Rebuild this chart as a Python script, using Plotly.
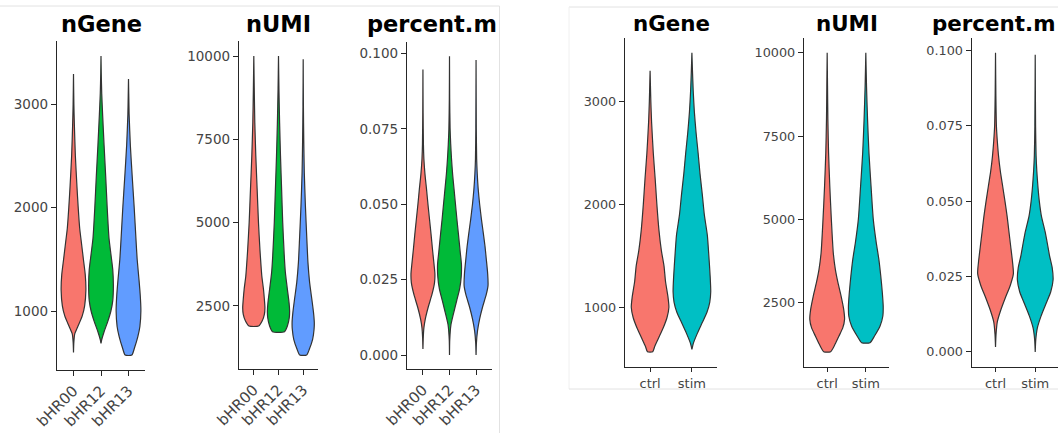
import plotly.graph_objects as go

W, H = 1058, 433

# ---------------- categories / colours ----------------
groups_left = ["bHR00", "bHR12", "bHR13"]
groups_right = ["ctrl", "stim"]
colors_left = ["#F8766D", "#00BA38", "#619CFF"]
colors_right = ["#F8766D", "#00BFC4"]
titles = ["nGene", "nUMI", "percent.m"]

# ---------------- violin profiles (value level, relative width) ----------------
# left panel, nGene
ngene_bhr00_y = [600, 700, 780, 850, 950, 1050, 1200, 1350, 1500, 1650, 1800, 2000, 2200, 2500, 2800, 3000, 3290]
ngene_bhr00_w = [0.0, 0.03, 0.1, 0.35, 0.7, 0.9, 1.0, 0.95, 0.8, 0.65, 0.5, 0.38, 0.28, 0.15, 0.07, 0.03, 0.0]
ngene_bhr12_y = [688, 720, 800, 900, 1000, 1100, 1250, 1400, 1550, 1700, 2000, 2300, 2600, 2900, 3100, 3300, 3464]
ngene_bhr12_w = [0.0, 0.05, 0.25, 0.55, 0.8, 0.95, 1.0, 0.95, 0.8, 0.65, 0.5, 0.38, 0.25, 0.13, 0.06, 0.02, 0.0]
ngene_bhr13_y = [575, 650, 750, 850, 1000, 1150, 1300, 1500, 1700, 2000, 2300, 2600, 2900, 3100, 3241]
ngene_bhr13_w = [0.27, 0.5, 0.75, 0.92, 1.0, 0.95, 0.85, 0.7, 0.6, 0.46, 0.3, 0.15, 0.05, 0.02, 0.0]

# left panel, nUMI
numi_bhr00_y = [1900, 2050, 2250, 2450, 2700, 3000, 3400, 3800, 4200, 5000, 6000, 7000, 8000, 9000, 10000]
numi_bhr00_w = [0.43, 0.75, 0.95, 1.0, 0.95, 0.87, 0.72, 0.63, 0.55, 0.42, 0.3, 0.18, 0.09, 0.04, 0.0]
numi_bhr12_y = [1730, 1900, 2150, 2350, 2600, 3000, 3500, 4000, 5000, 6000, 7000, 8000, 9000, 10000]
numi_bhr12_w = [0.54, 0.8, 0.97, 1.0, 0.95, 0.8, 0.62, 0.52, 0.38, 0.28, 0.18, 0.1, 0.04, 0.0]
numi_bhr13_y = [1029, 1200, 1500, 1800, 2000, 2300, 2700, 3200, 3800, 4500, 5500, 6500, 7500, 8500, 9900]
numi_bhr13_w = [0.31, 0.55, 0.85, 0.98, 1.0, 0.93, 0.78, 0.58, 0.43, 0.33, 0.2, 0.1, 0.05, 0.02, 0.0]

# left panel, percent.mito
pm_bhr00_y = [0.002, 0.006, 0.009, 0.012, 0.016, 0.02, 0.024, 0.027, 0.03, 0.035, 0.04, 0.045, 0.05, 0.055, 0.06, 0.065, 0.07, 0.08, 0.0947]
pm_bhr00_w = [0.0, 0.03, 0.08, 0.2, 0.45, 0.75, 0.97, 1.0, 0.93, 0.8, 0.68, 0.55, 0.42, 0.3, 0.17, 0.08, 0.04, 0.015, 0.0]
pm_bhr12_y = [0.0, 0.005, 0.01, 0.014, 0.018, 0.022, 0.026, 0.03, 0.034, 0.04, 0.045, 0.05, 0.055, 0.06, 0.065, 0.07, 0.075, 0.085, 0.0991]
pm_bhr12_w = [0.0, 0.02, 0.12, 0.35, 0.6, 0.85, 0.98, 1.0, 0.9, 0.75, 0.62, 0.5, 0.38, 0.26, 0.17, 0.1, 0.05, 0.015, 0.0]
pm_bhr13_y = [0.0, 0.004, 0.008, 0.012, 0.016, 0.02, 0.023, 0.027, 0.032, 0.036, 0.04, 0.045, 0.05, 0.055, 0.06, 0.065, 0.075, 0.0978]
pm_bhr13_w = [0.0, 0.03, 0.12, 0.3, 0.55, 0.85, 1.0, 0.97, 0.85, 0.75, 0.62, 0.45, 0.3, 0.18, 0.1, 0.05, 0.02, 0.0]

# right panel, nGene
ngene_ctrl_y = [567, 620, 700, 800, 900, 1000, 1100, 1250, 1400, 1550, 1750, 2000, 2250, 2500, 2800, 3000, 3300]
ngene_ctrl_w = [0.14, 0.25, 0.45, 0.7, 0.9, 1.0, 0.95, 0.82, 0.74, 0.6, 0.47, 0.36, 0.27, 0.17, 0.08, 0.04, 0.0]
ngene_stim_y = [590, 650, 750, 850, 950, 1050, 1150, 1300, 1500, 1700, 1900, 2100, 2300, 2500, 2700, 2900, 3100, 3300, 3476]
ngene_stim_w = [0.0, 0.08, 0.3, 0.55, 0.8, 0.95, 1.0, 0.97, 0.9, 0.82, 0.66, 0.55, 0.43, 0.33, 0.22, 0.13, 0.07, 0.03, 0.0]

# right panel, nUMI
numi_ctrl_y = [1030, 1250, 1500, 1750, 2000, 2300, 2700, 3100, 3500, 4000, 5000, 6000, 7000, 8000, 9000, 10000]
numi_ctrl_w = [0.2, 0.45, 0.68, 0.9, 1.0, 0.95, 0.8, 0.62, 0.47, 0.35, 0.24, 0.15, 0.08, 0.04, 0.02, 0.0]
numi_stim_y = [1300, 1500, 1800, 2100, 2400, 2800, 3300, 3800, 4300, 5000, 6000, 7000, 8000, 9000, 10000]
numi_stim_w = [0.24, 0.5, 0.82, 0.98, 1.0, 0.95, 0.86, 0.75, 0.6, 0.43, 0.3, 0.18, 0.1, 0.04, 0.0]

# right panel, percent.mito
pm_ctrl_y = [0.0017, 0.006, 0.01, 0.014, 0.018, 0.022, 0.026, 0.03, 0.035, 0.04, 0.045, 0.05, 0.055, 0.06, 0.065, 0.07, 0.075, 0.085, 0.0993]
pm_ctrl_w = [0.0, 0.03, 0.1, 0.3, 0.55, 0.82, 1.0, 0.95, 0.85, 0.75, 0.65, 0.53, 0.4, 0.27, 0.17, 0.1, 0.05, 0.02, 0.0]
pm_stim_y = [0.0, 0.004, 0.008, 0.012, 0.016, 0.02, 0.024, 0.028, 0.032, 0.036, 0.04, 0.045, 0.05, 0.055, 0.06, 0.065, 0.075, 0.0986]
pm_stim_w = [0.0, 0.03, 0.12, 0.33, 0.6, 0.87, 1.0, 0.95, 0.8, 0.68, 0.55, 0.35, 0.23, 0.15, 0.09, 0.05, 0.02, 0.0]

# y tick values per metric
ticks_ngene = [1000, 2000, 3000]
ticks_numi = [2500, 5000, 7500, 10000]
ticks_pm = [0.0, 0.025, 0.05, 0.075, 0.1]
ticktext_ngene = ["1000", "2000", "3000"]
ticktext_numi = ["2500", "5000", "7500", "10000"]
ticktext_pm = ["0.000", "0.025", "0.050", "0.075", "0.100"]

# ---------------- layout geometry (pixels) ----------------
def px(x):
    return x / W

def py(y):
    return 1 - y / H

panels = [
    dict(x0=57, x1=145, yt=41, yb=370, yr=[430, 3609], n=3),
    dict(x0=239, x1=318, yt=41, yb=369, yr=[609, 10450], n=3),
    dict(x0=407, x1=492, yt=41.7, yb=369, yr=[-0.00464, 0.1039], n=3),
    dict(x0=625, x1=717, yt=38.3, yb=366.7, yr=[421, 3616], n=2),
    dict(x0=804, x1=889, yt=38.3, yb=366.7, yr=[579, 10434], n=2),
    dict(x0=971.7, x1=1058, yt=38.3, yb=366.7, yr=[-0.00488, 0.1041], n=2),
]

violins = [
    [(ngene_bhr00_y, ngene_bhr00_w), (ngene_bhr12_y, ngene_bhr12_w), (ngene_bhr13_y, ngene_bhr13_w)],
    [(numi_bhr00_y, numi_bhr00_w), (numi_bhr12_y, numi_bhr12_w), (numi_bhr13_y, numi_bhr13_w)],
    [(pm_bhr00_y, pm_bhr00_w), (pm_bhr12_y, pm_bhr12_w), (pm_bhr13_y, pm_bhr13_w)],
    [(ngene_ctrl_y, ngene_ctrl_w), (ngene_stim_y, ngene_stim_w)],
    [(numi_ctrl_y, numi_ctrl_w), (numi_stim_y, numi_stim_w)],
    [(pm_ctrl_y, pm_ctrl_w), (pm_stim_y, pm_stim_w)],
]

yticks = [
    (ticks_ngene, ticktext_ngene), (ticks_numi, ticktext_numi), (ticks_pm, ticktext_pm),
    (ticks_ngene, ticktext_ngene), (ticks_numi, ticktext_numi), (ticks_pm, ticktext_pm),
]

FONT = "DejaVu Sans"
AXCOL = "#262626"
TXTCOL = "#444444"

fig = go.Figure()
layout = dict(
    width=W, height=H, margin=dict(l=0, r=0, t=0, b=0, autoexpand=False),
    paper_bgcolor="white", plot_bgcolor="white", showlegend=False,
    font=dict(family=FONT, color=TXTCOL),
)

for i, p in enumerate(panels):
    k = "" if i == 0 else str(i + 1)
    xa, ya = "x" + k, "y" + k
    left = p["n"] == 3
    groups = groups_left if left else groups_right
    colors = colors_left if left else colors_right
    unit = (p["x1"] - p["x0"]) / (p["n"] + 0.2)
    if i == 5:
        unit = 39.7
    xr = [0.4, 0.4 + (p["x1"] - p["x0"]) / unit]
    for j, (ys, ws) in enumerate(violins[i]):
        pos = j + 1
        xs = [pos + 0.45 * w for w in ws] + [pos - 0.45 * w for w in reversed(ws)] + [pos + 0.45 * ws[0]]
        yy = list(ys) + list(reversed(ys)) + [ys[0]]
        fig.add_trace(go.Scatter(
            x=xs, y=yy, mode="lines", fill="toself", fillcolor=colors[j],
            line=dict(color="#333333", width=1.2, shape="spline", smoothing=0.6),
            xaxis=xa, yaxis=ya, hoverinfo="skip",
        ))
    axname_x = "xaxis" + k
    axname_y = "yaxis" + k
    layout[axname_x] = dict(
        domain=[px(p["x0"]), min(1.0, px(p["x1"]))], anchor=ya, range=xr, automargin=False,
        showgrid=False, zeroline=False, showline=True, linecolor=AXCOL, linewidth=1.4,
        ticks="outside", ticklen=4 if not left else 5, tickcolor=AXCOL, tickwidth=1.3,
        tickmode="array", tickvals=list(range(1, p["n"] + 1)), ticktext=groups,
        tickangle=-45 if left else 0,
        tickfont=dict(family=FONT, size=15 if left else 13, color=TXTCOL),
        fixedrange=True,
    )
    tv, tt = yticks[i]
    layout[axname_y] = dict(
        domain=[py(p["yb"]), py(p["yt"])], anchor=xa, range=p["yr"], automargin=False,
        showgrid=False, zeroline=False, showline=True, linecolor=AXCOL, linewidth=1.4,
        ticks="outside", ticklen=5, tickcolor=AXCOL, tickwidth=1.3,
        tickmode="array", tickvals=tv, ticktext=tt,
        tickfont=dict(family=FONT, size=13.5 if left else 12.8, color=TXTCOL),
        fixedrange=True,
    )

fig.update_layout(**layout)

# titles
title_pos = [(101, 24, "center", "nGene", 22.5), (278.5, 24, "center", "nUMI", 22.5),
             (365, 24, "left", "percent.m", 22.5),
             (671, 23, "center", "nGene", 21.4), (846.7, 23, "center", "nUMI", 21.4),
             (1057, 23, "right", "percent.m", 21.4)]
for (x, y, anc, t, fs) in title_pos:
    fig.add_annotation(x=px(x), y=py(y), xref="paper", yref="paper", text="<b>%s</b>" % t,
                       showarrow=False, xanchor=anc, yanchor="middle",
                       font=dict(family=FONT, size=fs, color="black"))

# screenshot frame lines
border = "#e2e2e2"
fig.add_shape(type="line", xref="paper", yref="paper", x0=0, x1=px(499.5), y0=py(6), y1=py(6), line=dict(color=border, width=1))
fig.add_shape(type="line", xref="paper", yref="paper", x0=px(499.5), x1=px(499.5), y0=py(6), y1=0, line=dict(color=border, width=1))
fig.add_shape(type="line", xref="paper", yref="paper", x0=px(569), x1=1, y0=py(7), y1=py(7), line=dict(color=border, width=1))
fig.add_shape(type="line", xref="paper", yref="paper", x0=px(569), x1=px(569), y0=py(7), y1=py(389), line=dict(color="#f0f0f0", width=1))
fig.add_shape(type="line", xref="paper", yref="paper", x0=px(569), x1=1, y0=py(389), y1=py(389), line=dict(color=border, width=1))

fig.write_html("out.html")
